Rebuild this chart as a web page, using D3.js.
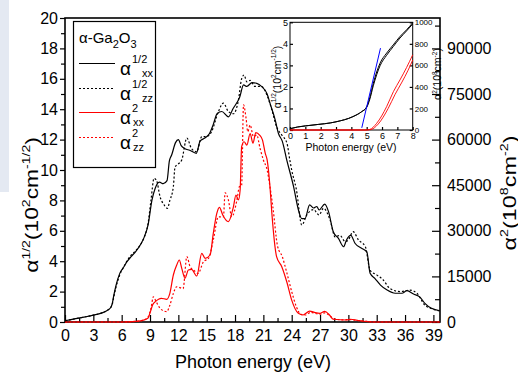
<!DOCTYPE html>
<html>

<head>
  <title>alpha-Ga2O3 absorption</title>
  <style>
    body,
    html {
      margin: 0;
      padding: 0;
      background: #fff;
    }

    svg {
      display: block;
      font-family: "Liberation Sans", Arial, sans-serif;
    }
  </style>
</head>

<body>

  <svg id="svg" width="518" height="376"></svg>

  <script src="https://d3js.org/d3.v7.min.js"></script>
  <script>
    // main panel: alpha^1/2 (10^2 cm^-1/2) vs photon energy (eV)
    const halfXX = [[0, 0.08], [1, 0.2], [2, 0.32], [3, 0.45], [4, 0.62], [4.5, 0.78], [4.8, 0.92], [5.0, 1.2],
    [5.15, 1.7], [5.4, 2.4], [5.8, 3.2], [6.2, 3.6], [6.6, 4.0], [7.0, 4.3], [7.5, 4.65], [8.0, 5.1], [8.4, 5.6],
    [8.8, 6.4], [9.2, 8.0], [9.55, 8.8], [10.0, 9.2], [10.4, 9.1], [10.8, 9.3], [11.05, 10.6], [11.3, 11.0],
    [11.7, 11.8], [12.0, 12.0], [12.3, 11.6], [12.7, 11.4], [13.2, 11.3], [13.9, 11.1], [14.3, 11.9], [14.8, 12.1],
    [15.3, 12.4], [15.7, 13.0], [16.1, 13.7], [16.6, 13.85], [17.3, 13.5], [17.8, 14.05], [18.5, 14.8], [18.9, 15.6],
    [19.25, 15.5], [19.8, 15.75], [20.3, 15.7], [20.8, 15.5], [21.4, 15.0], [21.7, 14.4], [22.25, 13.3], [22.6, 12.4],
    [23.0, 11.9], [23.5, 10.6], [24.2, 8.9], [24.7, 7.4], [25.07, 6.8], [25.4, 6.8], [25.9, 7.7], [26.3, 7.5],
    [26.66, 7.6], [26.9, 7.37], [27.5, 7.76], [27.9, 7.26], [28.4, 5.94], [28.95, 5.5], [29.5, 4.95], [29.8, 5.4],
    [30.26, 5.7], [30.7, 5.18], [31.4, 4.85], [31.96, 4.6], [32.3, 3.2], [32.8, 2.87], [33.4, 2.43], [34.1, 2.1],
    [34.96, 1.89], [35.67, 1.89], [36.2, 2.06], [36.9, 1.84], [37.6, 1.62], [38.1, 1.23], [38.8, 0.9], [39.7, 0.74]]

    const halfZZ = [[0, 0.08], [1, 0.2], [2, 0.32], [3, 0.45], [4, 0.62], [4.5, 0.78], [4.8, 0.92], [5.0, 1.15],
    [5.15, 1.6], [5.4, 2.3], [5.8, 3.1], [6.2, 3.6], [6.6, 4.05], [7.0, 4.4], [7.5, 4.7], [8.0, 5.1], [8.4, 5.6],
    [8.8, 6.5], [9.1, 8.0], [9.43, 9.45], [9.7, 9.3], [10.06, 8.25], [10.5, 7.7], [10.84, 7.48], [11.1, 8.0],
    [11.47, 8.9], [11.65, 10.2], [12.0, 10.4], [12.36, 10.66], [12.9, 12.1], [13.4, 11.4], [13.95, 11.2],
    [14.48, 12.2], [15.0, 12.2], [15.5, 12.5], [16.24, 13.84], [16.77, 14.4], [17.3, 13.84], [17.83, 13.7],
    [18.36, 14.6], [18.7, 16.0], [18.96, 16.25], [19.25, 15.8], [19.6, 15.9], [20.1, 15.5], [20.8, 15.5],
    [21.4, 14.9], [21.9, 13.95], [22.4, 12.85], [22.95, 12.3], [23.5, 11.76], [23.8, 10.66], [24.0, 10.0],
    [24.5, 8.7], [25.07, 6.38], [25.6, 7.04], [26.3, 7.4], [26.9, 7.04], [27.36, 7.48], [28.07, 6.7], [28.6, 5.6],
    [29.1, 5.7], [29.66, 5.3], [30.0, 5.4], [30.5, 5.94], [31.07, 5.4], [31.8, 4.95], [32.3, 3.4], [33.0, 3.1],
    [33.7, 2.76], [34.4, 2.2], [35.5, 2.0], [36.5, 2.1], [37.26, 1.89], [38.1, 1.1], [38.7, 0.9], [39.7, 0.72]]

    // alpha^2 (10^8 cm^-2), right axis
    const sqXX = [[0, 0], [6, 0], [7.5, 200], [8.3, 600], [8.8, 1300], [9.0, 3000], [9.3, 5800], [9.6, 6800],
    [9.9, 7500], [10.2, 7800], [10.77, 7470], [11.1, 9440], [11.47, 15460], [11.83, 18750], [12.1, 20400],
    [12.36, 17660], [12.7, 14370], [13.06, 17100], [13.4, 17330], [13.95, 15130], [14.48, 22600], [14.83, 20950],
    [15.36, 22040], [15.7, 29170], [16.07, 35750], [16.35, 37730], [16.7, 35200], [17.3, 33000], [17.83, 37900],
    [18.1, 41770], [18.36, 40130], [18.54, 43400], [18.7, 57700], [18.96, 59300], [19.25, 58200], [19.6, 62000],
    [19.9, 58800], [20.2, 62300], [20.6, 61500], [20.9, 59900], [21.2, 55500], [21.4, 53300], [21.7, 44500],
    [21.9, 35750], [22.4, 21500], [22.95, 18200], [23.5, 13000], [24.0, 7200], [24.7, 2860], [25.2, 2300],
    [25.9, 3600], [26.5, 3060], [27.0, 2860], [27.5, 3500], [28.0, 2300], [28.4, 900], [29.8, 650], [30.2, 900],
    [31.2, 430], [32.6, 0], [39.7, 0]]

    const sqZZ = [[0, 0], [6, 0], [7.5, 200], [8.3, 600], [8.8, 1700], [9.1, 4500], [9.36, 8300], [9.6, 7000],
    [10.06, 4500], [10.5, 3600], [10.77, 3400], [11.1, 5500], [11.47, 9400], [11.83, 11600], [12.5, 11000],
    [12.9, 21500], [13.24, 18200], [13.6, 17100], [14.1, 16000], [14.65, 19800], [15.2, 20950], [15.7, 27000],
    [16.24, 34600], [16.77, 34600], [16.95, 42500], [17.3, 40100], [17.65, 34600], [18.2, 40100], [18.46, 44500],
    [18.7, 45000], [18.9, 71400], [19.17, 67000], [19.35, 62600], [19.6, 64800], [19.95, 61000], [20.3, 61500],
    [20.65, 57100], [21.0, 53300], [21.4, 50000], [21.7, 44500], [22.0, 38000], [22.5, 25000], [23.0, 21500],
    [23.5, 16000], [24.0, 10000], [24.5, 5000], [25.0, 2500], [25.5, 2300], [26.0, 3200], [26.5, 2800],
    [27.0, 2600], [27.5, 3000], [28.0, 2100], [28.5, 1000], [29.5, 700], [30.0, 800], [31.0, 500], [32.0, 200],
    [33.0, 0], [39.7, 0]]

    // inset, 0-8 eV
    const insetHalfA = [[0, 0.06], [0.5, 0.14], [1.5, 0.23], [3.0, 0.38], [4.1, 0.62], [4.67, 0.85], [5.0, 1.08],
    [5.2, 1.5], [5.43, 2.17], [5.87, 3.1], [6.3, 3.57], [6.73, 3.95], [7.17, 4.34], [7.6, 4.65], [8.0, 4.98]]
    const insetHalfB = [[0, 0.06], [0.5, 0.14], [1.5, 0.23], [3.0, 0.38], [4.1, 0.62], [4.67, 0.85], [5.0, 1.05],
    [5.2, 1.42], [5.43, 2.05], [5.87, 2.98], [6.3, 3.47], [6.73, 3.87], [7.17, 4.27], [7.6, 4.6], [8.0, 4.92]]
    const insetSqA = [[0, 0], [4.9, 0], [5.2, 5], [5.65, 62], [6.3, 217], [6.74, 356], [7.17, 465], [7.6, 580], [8.0, 698]]
    const insetSqB = [[0, 0], [5.0, 0], [5.3, 5], [5.75, 55], [6.4, 200], [6.85, 330], [7.3, 445], [7.7, 555], [8.0, 650]]
    const fitLine = [[4.68, 0.1], [5.9, 3.8]]

    const xTicks = d3.range(0, 40, 3)
    const yLeftTicks = d3.range(0, 21, 2)
    const yRightTicks = d3.range(0, 100000, 15000)
    const legendTitle = "α-Ga"
    const legendItems = [
      { sup: "1/2", sub: "xx" },
      { sup: "1/2", sub: "zz" },
      { sup: "2", sub: "xx" },
      { sup: "2", sub: "zz" }
    ]

    const svg = d3.select("#svg")

    // faint strip at left edge of the screenshot
    svg.append("rect").attr("x", 0).attr("y", 0).attr("width", 9).attr("height", 192).attr("fill", "#e4e9f2")

    const x = d3.scaleLinear().domain([0, 39.7]).range([65, 440])
    const yL = d3.scaleLinear().domain([0, 20]).range([322, 18])
    const yR = d3.scaleLinear().domain([0, 100000]).range([322, 18])

    function styleAxis(g, size) {
      g.select(".domain").remove()
      g.selectAll("line").attr("stroke", "#000").attr("stroke-width", 1.2)
      g.selectAll("text").attr("font-size", size).attr("font-family", "Liberation Sans, Arial, sans-serif").attr("fill", "#000")
    }

    // bottom
    svg.append("g").attr("transform", "translate(0,322)")
      .call(d3.axisBottom(x).tickValues(d3.range(1.5, 40, 3)).tickSize(-4).tickFormat(""))
      .call(g => styleAxis(g, 16))
    svg.append("g").attr("transform", "translate(0,322)")
      .call(d3.axisBottom(x).tickValues(xTicks).tickSize(-7).tickPadding(8).tickFormat(d3.format("d")))
      .call(g => styleAxis(g, 16))

    // left
    svg.append("g").attr("transform", "translate(65,0)")
      .call(d3.axisLeft(yL).tickValues(d3.range(1, 20, 2)).tickSize(4).tickFormat(""))
      .call(g => styleAxis(g, 16))
    svg.append("g").attr("transform", "translate(65,0)")
      .call(d3.axisLeft(yL).tickValues(yLeftTicks).tickSize(5).tickPadding(2).tickFormat(d3.format("d")))
      .call(g => styleAxis(g, 16))

    // right
    svg.append("g").attr("transform", "translate(440,0)")
      .call(d3.axisRight(yR).tickValues(d3.range(7500, 100000, 15000)).tickSize(-5).tickFormat(""))
      .call(g => styleAxis(g, 16))
    svg.append("g").attr("transform", "translate(440,0)")
      .call(d3.axisRight(yR).tickValues(yRightTicks).tickSize(-8).tickPadding(7).tickFormat(d3.format("d")))
      .call(g => styleAxis(g, 16))

    svg.append("rect").attr("x", 65).attr("y", 18).attr("width", 375).attr("height", 304)
      .attr("fill", "none").attr("stroke", "#000").attr("stroke-width", 1.6)

    const lineL = d3.line().x(d => x(d[0])).y(d => yL(d[1])).curve(d3.curveMonotoneX)
    const lineR = d3.line().x(d => x(d[0])).y(d => yR(d[1])).curve(d3.curveMonotoneX)

    function drawPath(gen, data, color, dash) {
      svg.append("path")
        .attr("d", gen(data))
        .attr("fill", "none")
        .attr("stroke", color)
        .attr("stroke-width", 1.2)
        .attr("stroke-dasharray", dash)
    }

    drawPath(lineR, sqZZ, "#ff0000", "2,2")
    drawPath(lineR, sqXX, "#ff0000", null)
    drawPath(lineL, halfZZ, "#000", "2,2")
    drawPath(lineL, halfXX, "#000", null)

    // sub/superscript helper
    function richText(sel, parts, base, small) {
      let shift = 0
      parts.forEach(([s, k]) => {
        const target = k === "sup" ? -0.42 * base : k === "sub" ? 0.3 * base : 0
        sel.append("tspan").text(s)
          .attr("font-size", k === "n" ? base : small)
          .attr("dy", target - shift)
        shift = target
      })
    }

    // axis titles
    svg.append("text").attr("x", 253).attr("y", 368).attr("text-anchor", "middle")
      .attr("font-size", 18).text("Photon energy (eV)")

    svg.append("text").attr("transform", "translate(38,205) rotate(-90) scale(1.27,1)")
      .attr("text-anchor", "middle")
      .call(t => richText(t, [["α", "n"], ["1/2", "sup"], ["(10", "n"], ["2", "sup"], ["cm", "n"], ["-1/2", "sup"], [")", "n"]], 18, 11))

    svg.append("text").attr("transform", "translate(516,193) rotate(-90) scale(1.3,1)")
      .attr("text-anchor", "middle")
      .call(t => richText(t, [["α", "n"], ["2", "sup"], ["(10", "n"], ["8", "sup"], ["cm", "n"], ["-2", "sup"], [")", "n"]], 18, 11))

    // legend
    svg.append("rect").attr("x", 73.5).attr("y", 21.5).attr("width", 82).attr("height", 146)
      .attr("fill", "#fff").attr("stroke", "#000").attr("stroke-width", 1.2)
    svg.append("text").attr("x", 79).attr("y", 43).attr("font-size", 15)
      .call(t => richText(t, [[legendTitle, "n"], ["2", "sub"], ["O", "n"], ["3", "sub"]], 15, 11))

    const legendColors = ["#000", "#000", "#ff0000", "#ff0000"]
    const legendDash = [null, "2,2", null, "2,2"]
    const legendY = d3.scalePoint().domain(d3.range(legendItems.length)).range([63, 137])
    legendItems.forEach((item, i) => {
      const ly = Math.round(legendY(i)) + 0.5
      svg.append("line").attr("x1", 79).attr("x2", 115).attr("y1", ly).attr("y2", ly)
        .attr("stroke", legendColors[i]).attr("stroke-width", 1).attr("stroke-dasharray", legendDash[i])
      svg.append("text").attr("x", 120).attr("y", ly + 11.5).attr("font-size", 19).text("α")
      svg.append("text").attr("x", 132).attr("y", ly - 0.5).attr("font-size", 11).text(item.sup)
      svg.append("text").attr("x", item.sup.length > 1 ? 142 : 133).attr("y", ly + 13.5).attr("font-size", 11).text(item.sub)
    })

    // inset
    const ix = d3.scaleLinear().domain([0, 8]).range([290, 412.7])
    const iyL = d3.scaleLinear().domain([0, 5]).range([130, 22.3])
    const iyR = d3.scaleLinear().domain([0, 1000]).range([130, 22.3])

    svg.append("rect").attr("x", 290).attr("y", 22.3).attr("width", 122.7).attr("height", 107.7)
      .attr("fill", "#fff")

    svg.append("g").attr("transform", "translate(0,130)")
      .call(d3.axisBottom(ix).ticks(8).tickSize(-3).tickPadding(3).tickFormat(d3.format("d")))
      .call(g => styleAxis(g, 9))
    svg.append("g").attr("transform", "translate(290,0)")
      .call(d3.axisLeft(iyL).ticks(5).tickSize(-3).tickPadding(2).tickFormat(d3.format("d")))
      .call(g => styleAxis(g, 9))
    svg.append("g").attr("transform", "translate(412.7,0)")
      .call(d3.axisRight(iyR).tickValues(d3.range(0, 1001, 200)).tickSize(-3).tickPadding(2).tickFormat(d3.format("d")))
      .call(g => styleAxis(g, 8))

    svg.append("rect").attr("x", 290).attr("y", 22.3).attr("width", 122.7).attr("height", 107.7)
      .attr("fill", "none").attr("stroke", "#000").attr("stroke-width", 1)

    const iLineL = d3.line().x(d => ix(d[0])).y(d => iyL(d[1])).curve(d3.curveMonotoneX)
    const iLineR = d3.line().x(d => ix(d[0])).y(d => iyR(d[1])).curve(d3.curveMonotoneX)

    function drawInset(gen, data, color, w) {
      svg.append("path").attr("d", gen(data)).attr("fill", "none")
        .attr("stroke", color).attr("stroke-width", w)
    }
    drawInset(iLineR, insetSqB, "#ff0000", 0.9)
    drawInset(iLineR, insetSqA, "#ff0000", 0.9)
    drawInset(iLineL, insetHalfB, "#000", 1)
    drawInset(iLineL, insetHalfA, "#000", 1)
    drawInset(d3.line().x(d => ix(d[0])).y(d => iyL(d[1])), fitLine, "#0000ff", 1)

    svg.append("text").attr("x", 351).attr("y", 151).attr("text-anchor", "middle")
      .attr("font-size", 10.5).text("Photon energy (eV)")
    svg.append("text").attr("transform", "translate(280.5,77) rotate(-90)")
      .attr("text-anchor", "middle")
      .call(t => richText(t, [["α", "n"], ["1/2", "sup"], ["(10", "n"], ["2", "sup"], ["cm", "n"], ["-1/2", "sup"], [")", "n"]], 10.5, 6.5))
    svg.append("text").attr("transform", "translate(441,74) rotate(-90)")
      .attr("text-anchor", "middle")
      .call(t => richText(t, [["α", "n"], ["2", "sup"], ["(10", "n"], ["8", "sup"], ["cm", "n"], ["-2", "sup"], [")", "n"]], 10.5, 6.5))
  </script>
</body>

</html>
